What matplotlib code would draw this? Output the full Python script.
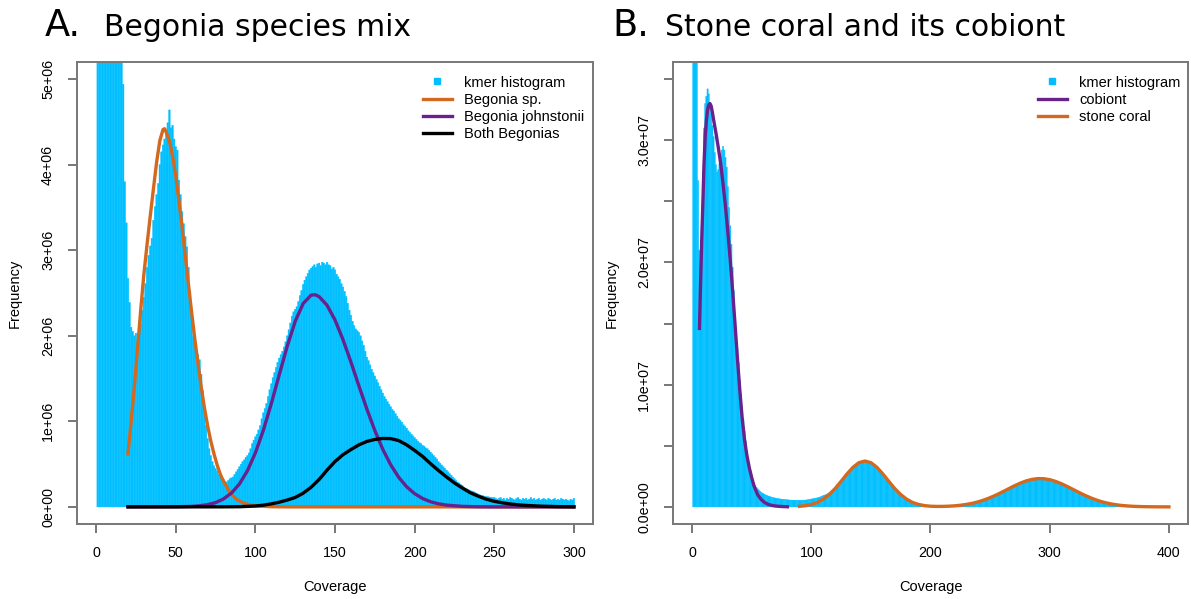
import numpy as np
import matplotlib
matplotlib.use('Agg')
import matplotlib.pyplot as plt
from matplotlib.lines import Line2D

# ====================
# DATOS (frecuencias en millones)
# ====================

# Panel A: histograma de k-mers, un valor por cobertura 1..300
begonia_hist = [
    40, 32, 26, 21, 17, 14, 12, 10.5, 9.3, 8.4,
    7.6, 7.0, 6.5, 6.1, 5.8, 5.5, 4.94, 3.8, 3.32, 2.67,
    2.39, 2.1, 2.05, 2.0, 2.03, 1.95, 2.0, 2.14, 2.3, 2.45,
    2.61, 2.8, 2.94, 3.05, 3.14, 3.35, 3.51, 3.65, 3.78, 4.0,
    4.15, 4.23, 4.3, 4.4, 4.49, 4.64, 4.43, 4.46, 4.3, 4.21,
    4.17, 3.82, 3.65, 3.45, 3.31, 3.16, 3.04, 2.8, 2.53, 2.25,
    1.99, 1.9, 1.83, 1.78, 1.72, 1.55, 1.36, 1.15, 0.95, 0.8,
    0.68, 0.6, 0.53, 0.48, 0.45, 0.42, 0.38, 0.36, 0.34, 0.32,
    0.3, 0.29, 0.31, 0.33, 0.34, 0.35, 0.38, 0.41, 0.44, 0.47,
    0.5, 0.53, 0.55, 0.58, 0.6, 0.63, 0.68, 0.74, 0.78, 0.82,
    0.85, 0.9, 0.95, 1.03, 1.1, 1.15, 1.21, 1.29, 1.37, 1.44,
    1.51, 1.57, 1.63, 1.69, 1.74, 1.78, 1.82, 1.87, 1.93, 2.0,
    2.07, 2.15, 2.23, 2.28, 2.31, 2.34, 2.4, 2.47, 2.53, 2.6,
    2.65, 2.69, 2.73, 2.77, 2.79, 2.81, 2.83, 2.8, 2.84, 2.85,
    2.82, 2.86, 2.85, 2.83, 2.86, 2.83, 2.82, 2.78, 2.8, 2.77,
    2.72, 2.69, 2.66, 2.61, 2.57, 2.52, 2.46, 2.38, 2.3, 2.24,
    2.17, 2.12, 2.08, 2.06, 2.04, 2.0, 1.94, 1.89, 1.82, 1.75,
    1.71, 1.66, 1.61, 1.57, 1.53, 1.49, 1.45, 1.41, 1.37, 1.33,
    1.29, 1.26, 1.23, 1.2, 1.17, 1.14, 1.12, 1.09, 1.06, 1.03,
    1.01, 0.99, 0.96, 0.94, 0.92, 0.89, 0.87, 0.85, 0.83, 0.81,
    0.79, 0.77, 0.75, 0.74, 0.72, 0.71, 0.69, 0.68, 0.66, 0.64,
    0.62, 0.6, 0.58, 0.56, 0.53, 0.51, 0.49, 0.47, 0.45, 0.43,
    0.41, 0.39, 0.37, 0.35, 0.33, 0.31, 0.29, 0.28, 0.26, 0.25,
    0.23, 0.22, 0.21, 0.2, 0.19, 0.185, 0.18, 0.17, 0.16, 0.15,
    0.14, 0.135, 0.13, 0.125, 0.12, 0.12, 0.115, 0.11, 0.11, 0.11,
    0.1, 0.09, 0.1, 0.11, 0.09, 0.1, 0.08, 0.1, 0.09, 0.11,
    0.1, 0.09, 0.08, 0.1, 0.11, 0.09, 0.08, 0.1, 0.09, 0.1,
    0.08, 0.09, 0.11, 0.09, 0.1, 0.08, 0.09, 0.1, 0.08, 0.09,
    0.1, 0.09, 0.08, 0.1, 0.09, 0.08, 0.09, 0.1, 0.08, 0.09,
    0.08, 0.1, 0.09, 0.08, 0.09, 0.08, 0.07, 0.09, 0.08, 0.1,
]

# Curvas ajustadas panel A
sp_x = [20, 22, 24, 26, 28, 30, 32, 34, 36, 38, 40, 42, 43, 44,
        46, 48, 50, 52, 54, 56, 58, 60, 62, 64, 66, 68, 70, 72, 74, 76, 78, 80,
        84, 88, 92, 96, 100, 110, 120, 150, 200, 250, 300]
sp_y = [0.62, 1.0, 1.4, 1.85, 2.3, 2.72, 3.07, 3.4, 3.72, 4.03, 4.28, 4.41, 4.42, 4.38,
        4.28, 4.1, 3.87, 3.58, 3.27, 2.93, 2.6, 2.27, 1.96, 1.67, 1.4, 1.16, 0.95, 0.77,
        0.62, 0.49, 0.38, 0.3,
        0.17, 0.09, 0.05, 0.025, 0.012, 0.002, 0, 0, 0, 0, 0]

john_x = [20, 50, 60, 65, 70, 75, 80, 85, 90, 95, 100, 105, 110, 115, 120, 125, 130, 135,
          137.5, 140, 145, 150, 155, 160, 165, 170, 175, 180, 185, 190, 195, 200, 205,
          210, 215, 220, 230, 240, 250, 300]
john_y = [0, 0.001, 0.006, 0.013, 0.026, 0.05, 0.093, 0.162, 0.268, 0.422, 0.631, 0.895,
          1.207, 1.545, 1.878, 2.168, 2.377, 2.475, 2.48, 2.458, 2.357, 2.185, 1.956,
          1.693, 1.415, 1.144, 0.893, 0.673, 0.491, 0.346, 0.235, 0.155, 0.098, 0.06,
          0.036, 0.021, 0.006, 0.0015, 0.0003, 0]

both_x = [20, 80, 90, 100, 105, 110, 115, 120, 125, 130, 135, 140, 145, 150, 155, 160,
          165, 170, 175, 180, 185, 190, 195, 200, 205, 210, 215, 220, 225, 230, 235, 240,
          245, 250, 255, 260, 265, 270, 280, 290, 300]
both_y = [0, 0.0005, 0.002, 0.01, 0.02, 0.035, 0.055, 0.08, 0.11, 0.16, 0.23, 0.32, 0.43,
          0.53, 0.61, 0.67, 0.725, 0.765, 0.788, 0.8, 0.798, 0.775, 0.725, 0.66, 0.59,
          0.505, 0.425, 0.35, 0.28, 0.22, 0.165, 0.125, 0.09, 0.065, 0.048, 0.034, 0.024,
          0.017, 0.008, 0.003, 0.001]

# Panel B: histograma de k-mers, cobertura 1..367
coral_hist = [
    60, 48, 40, 37.5, 26.7, 21, 20, 23, 27.5, 31,
    33, 33.6, 34.2, 33.8, 33.1, 32.2, 31.2, 30.3, 29, 28,
    27.4, 27.6, 28.1, 28.7, 29.2, 29.5, 29.2, 28.6, 27.8, 26.2,
    24.5, 23, 21.5, 19.6, 17.7, 15.7, 14, 13, 11.8, 10.4,
    9.2, 8.2, 7.2, 6.2, 5.4, 4.6, 3.9, 3.3, 2.8, 2.5,
    2.2, 1.95, 1.75, 1.6, 1.48, 1.38, 1.28, 1.2, 1.13, 1.07,
    1.02, 0.97, 0.93, 0.89, 0.85, 0.82, 0.79, 0.76, 0.74, 0.72,
    0.7, 0.68, 0.66, 0.65, 0.63, 0.62, 0.61, 0.6, 0.59, 0.58,
    0.57, 0.56, 0.56, 0.55, 0.55, 0.55, 0.54, 0.54, 0.54, 0.54,
    0.54, 0.54, 0.55, 0.55, 0.56, 0.57, 0.58, 0.6, 0.62, 0.64,
    0.66, 0.68, 0.7, 0.72, 0.74, 0.77, 0.8, 0.84, 0.88, 0.93,
    0.96, 1.0, 1.04, 1.09, 1.14, 1.2, 1.27, 1.35, 1.44, 1.53,
    1.63, 1.74, 1.85, 1.96, 2.08, 2.2, 2.32, 2.44, 2.56, 2.68,
    2.8, 2.92, 3.03, 3.14, 3.24, 3.33, 3.42, 3.5, 3.57, 3.63,
    3.68, 3.72, 3.75, 3.77, 3.78, 3.77, 3.75, 3.72, 3.67, 3.62,
    3.56, 3.49, 3.41, 3.33, 3.24, 3.14, 3.04, 2.94, 2.82, 2.71,
    2.59, 2.47, 2.35, 2.23, 2.1, 1.98, 1.86, 1.74, 1.62, 1.51,
    1.4, 1.3, 1.2, 1.1, 1.01, 0.93, 0.85, 0.77, 0.7, 0.63,
    0.57, 0.51, 0.46, 0.41, 0.37, 0.33, 0.29, 0.26, 0.23, 0.2,
    0.18, 0.16, 0.14, 0.12, 0.11, 0.1, 0.09, 0.08, 0.07, 0.06,
    0.055, 0.05, 0.045, 0.042, 0.04, 0.038, 0.037, 0.037, 0.038, 0.04,
    0.042, 0.045, 0.048, 0.052, 0.056, 0.061, 0.066, 0.072, 0.078, 0.085,
    0.093, 0.102, 0.111, 0.122, 0.132, 0.144, 0.157, 0.17, 0.185, 0.2,
    0.216, 0.234, 0.252, 0.272, 0.292, 0.314, 0.337, 0.361, 0.387, 0.414,
    0.442, 0.471, 0.502, 0.534, 0.567, 0.602, 0.638, 0.675, 0.714, 0.753,
    0.794, 0.837, 0.88, 0.924, 0.969, 1.015, 1.062, 1.11, 1.158, 1.208,
    1.257, 1.307, 1.357, 1.407, 1.457, 1.508, 1.557, 1.607, 1.656, 1.704,
    1.751, 1.798, 1.843, 1.887, 1.93, 1.97, 2.01, 2.047, 2.083, 2.117,
    2.148, 2.177, 2.203, 2.227, 2.249, 2.267, 2.283, 2.297, 2.307, 2.314,
    2.319, 2.32, 2.319, 2.314, 2.307, 2.297, 2.283, 2.267, 2.249, 2.227,
    2.203, 2.177, 2.148, 2.117, 2.083, 2.047, 2.01, 1.97, 1.93, 1.887,
    1.843, 1.798, 1.751, 1.704, 1.656, 1.607, 1.557, 1.508, 1.457, 1.407,
    1.357, 1.307, 1.257, 1.208, 1.158, 1.11, 1.062, 1.015, 0.969, 0.924,
    0.88, 0.837, 0.794, 0.753, 0.714, 0.675, 0.638, 0.602, 0.567, 0.534,
    0.502, 0.471, 0.442, 0.414, 0.387, 0.361, 0.337, 0.314, 0.292, 0.272,
    0.252, 0.234, 0.216, 0.2, 0.185, 0.17, 0.157, 0.144, 0.132, 0.122,
    0.111, 0.102, 0.093, 0.085, 0.078, 0.071, 0.064,
]

cob_x = [6.2, 7, 8, 9, 10, 11, 12, 13, 14, 15, 16, 17, 18,
         20, 22, 24, 26, 28, 30, 32, 34, 36, 38, 40, 42, 44, 46, 48, 50, 52,
         55, 58, 61, 64, 67, 70, 75, 80]
cob_y = [14.6, 17.8, 21.5, 24.7, 28.0, 30.3, 31.6, 32.5, 32.9, 33.0, 32.8, 32.3, 31.7,
         30.6, 29.4, 28.1, 26.4, 24.6, 22.5, 20.2, 17.7, 15.0, 12.2, 9.6, 7.3, 5.5,
         4.2, 3.2, 2.4, 1.7,
         1.0, 0.6, 0.35, 0.2, 0.12, 0.07, 0.03, 0.01]

coral_x = list(range(90, 401, 5))
coral_y = [0.045, 0.098, 0.195, 0.36, 0.63, 1.01, 1.5, 2.09, 2.7, 3.24,
           3.62, 3.75, 3.62, 3.24, 2.7, 2.09, 1.5, 1.01, 0.63, 0.36,
           0.2, 0.104, 0.055, 0.039, 0.04, 0.056, 0.085, 0.133, 0.2, 0.292,
           0.414, 0.567, 0.753, 0.969, 1.208, 1.457, 1.704, 1.93, 2.117, 2.249,
           2.314, 2.307, 2.227, 2.083, 1.887, 1.656, 1.407, 1.158, 0.924, 0.714,
           0.534, 0.387, 0.272, 0.185, 0.122, 0.078, 0.048, 0.029, 0.017, 0.009,
           0.005, 0.003, 0.001]

ticksA = [0, 1e6, 2e6, 3e6, 4e6, 5e6]
tick_labelsA = ['0e+00', '1e+06', '2e+06', '3e+06', '4e+06', '5e+06']
ticksB = [0, 0.5e7, 1e7, 1.5e7, 2e7, 2.5e7, 3e7, 3.5e7]
tick_labelsB = ['0.0e+00', '', '1.0e+07', '', '2.0e+07', '', '3.0e+07', '']

# ====================
# ESTILO
# ====================

BLUE = '#00BFFF'
ORANGE = '#D2691E'
PURPLE = '#68228B'
GRAY = '#777777'
M = 1e6

plt.rcParams['font.family'] = ['Liberation Sans', 'DejaVu Sans']

fig = plt.figure(figsize=(11.91, 5.99), dpi=100)
axA = fig.add_axes([77 / 1191, 1 - 524 / 599, 516 / 1191, 462 / 599])
axB = fig.add_axes([673 / 1191, 1 - 524 / 599, 515 / 1191, 462 / 599])


def estilo(ax, ylab_x):
    for s in ax.spines.values():
        s.set_color(GRAY)
        s.set_linewidth(1.4)
    ax.tick_params(colors=GRAY, labelcolor='black', length=6.3, width=1.4,
                   labelsize=10.3, pad=9.5)
    ax.tick_params(axis='y', labelrotation=90)
    for lab in ax.get_yticklabels():
        lab.set_va('center')
    ax.set_xlabel('Coverage', fontsize=10.5)
    ax.set_ylabel('Frequency', fontsize=10.5)
    ax.xaxis.set_label_coords(0.5, (524 - 587) / 462)
    ax.xaxis.label.set_va('center')
    ax.yaxis.set_label_coords(ylab_x, 0.5)
    ax.yaxis.label.set_va('center')


# ====================
# PANEL A
# ====================

covA = np.arange(1, len(begonia_hist) + 1)
axA.bar(covA, np.array(begonia_hist) * M, width=1.0, color=BLUE,
        edgecolor=BLUE, linewidth=0.3, snap=False, zorder=1)
axA.plot(sp_x, np.array(sp_y) * M, color=ORANGE, lw=2.4, zorder=2)
axA.plot(john_x, np.array(john_y) * M, color=PURPLE, lw=2.4, zorder=3)
axA.plot(both_x, np.array(both_y) * M, color='black', lw=2.4, zorder=4)
axA.set_xlim(-12, 312)
axA.set_ylim(-0.2e6, 5.2e6)
axA.set_xticks([0, 50, 100, 150, 200, 250, 300])
axA.set_yticks(ticksA)
axA.set_yticklabels(tick_labelsA)
estilo(axA, (15 - 77) / 516)

handlesA = [Line2D([], [], marker='s', ls='none', color=BLUE, markersize=4),
            Line2D([], [], color=ORANGE, lw=2.4),
            Line2D([], [], color=PURPLE, lw=2.4),
            Line2D([], [], color='black', lw=2.4)]
axA.legend(handlesA, ['kmer histogram', 'Begonia sp.', 'Begonia johnstonii', 'Both Begonias'],
           loc='upper left', bbox_to_anchor=((422.7 - 77) / 516, (524 - 75.5) / 462),
           frameon=False, fontsize=10.5, handlelength=2.0, handletextpad=0.85,
           labelspacing=0.22, borderpad=0, borderaxespad=0)

# ====================
# PANEL B
# ====================

covB = np.arange(1, len(coral_hist) + 1)
axB.bar(covB, np.array(coral_hist) * M, width=1.0, color=BLUE,
        edgecolor=BLUE, linewidth=0.3, snap=False, zorder=1)
axB.plot(cob_x, np.array(cob_y) * M, color=PURPLE, lw=2.4, zorder=2)
axB.plot(coral_x, np.array(coral_y) * M, color=ORANGE, lw=2.4, zorder=3)
axB.set_xlim(-16, 416)
axB.set_ylim(-0.14e7, 3.64e7)
axB.set_xticks([0, 100, 200, 300, 400])
axB.set_yticks(ticksB)
axB.set_yticklabels(tick_labelsB)
estilo(axB, (611.7 - 673) / 515)

handlesB = [Line2D([], [], marker='s', ls='none', color=BLUE, markersize=4),
            Line2D([], [], color=PURPLE, lw=2.4),
            Line2D([], [], color=ORANGE, lw=2.4)]
axB.legend(handlesB, ['kmer histogram', 'cobiont', 'stone coral'],
           loc='upper left', bbox_to_anchor=((1037.7 - 673) / 515, (524 - 75.5) / 462),
           frameon=False, fontsize=10.5, handlelength=2.0, handletextpad=0.85,
           labelspacing=0.22, borderpad=0, borderaxespad=0)

# ====================
# TITULOS
# ====================

fig.text(45 / 1191, 1 - 36 / 599, 'A.', fontsize=26.5, family='DejaVu Sans', va='baseline')
fig.text(104 / 1191, 1 - 36 / 599, 'Begonia species mix', fontsize=21.5,
         family='DejaVu Sans', va='baseline')
fig.text(612 / 1191, 1 - 36 / 599, 'B.', fontsize=26.5, family='DejaVu Sans', va='baseline')
fig.text(665 / 1191, 1 - 36 / 599, 'Stone coral and its cobiont', fontsize=21.5,
         family='DejaVu Sans', va='baseline')

fig.savefig('out.png', dpi=100)
